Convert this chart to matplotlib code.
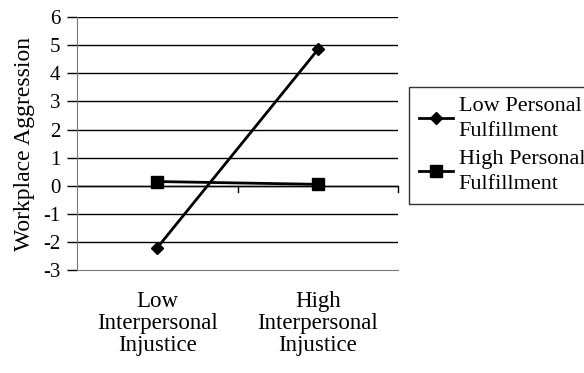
import matplotlib.pyplot as plt

# Data
categories = ['Low\nInterpersonal\nInjustice', 'High\nInterpersonal\nInjustice']
low_pf = [-2.2, 4.85]
high_pf = [0.15, 0.05]
series_names = ['Low Personal\nFulfillment', 'High Personal\nFulfillment']
y_ticks = list(range(-3, 7))

plt.rcParams['font.family'] = ['Liberation Serif', 'DejaVu Serif']
plt.rcParams['axes.unicode_minus'] = False

fig = plt.figure(figsize=(5.84, 3.73), dpi=100)
ax = fig.add_axes([0.132, 0.276, 0.55, 0.678])

x = list(range(len(categories)))
ax.plot(x, low_pf, color='black', lw=2, marker='D', markersize=6, label=series_names[0])
ax.plot(x, high_pf, color='black', lw=2, marker='s', markersize=8, label=series_names[1])

ax.set_xlim(-0.5, 1.5)
ax.set_ylim(-3, 6)
ax.set_yticks(y_ticks)
ax.tick_params(axis='y', labelsize=15, length=7, width=1, color='black', pad=5)

# horizontal gridlines
for yv in y_ticks[1:]:
    ax.axhline(yv, color='black', lw=1, zorder=0)

# category axis crosses at y=0
ax.spines['top'].set_visible(False)
ax.spines['right'].set_visible(False)
ax.spines['bottom'].set_color('#777777')
ax.spines['left'].set_color('#777777')
ax.axhline(0, color='black', lw=1, zorder=0)
ax.set_xticks([])
for xt in [0.5, 1.5]:
    ax.plot([xt, xt], [0, -0.22], color='black', lw=1, clip_on=False)

for xi, lab in zip(x, categories):
    ax.text(xi, -3.75, lab, ha='center', va='top', fontsize=16.5, linespacing=1.05)

ax.set_ylabel('Workplace Aggression', fontsize=17, labelpad=6)

leg = ax.legend(loc='upper left', bbox_to_anchor=(0.700, 0.767), bbox_transform=fig.transFigure,
                fontsize=16, frameon=True, fancybox=False, edgecolor='black',
                handlelength=1.55, handletextpad=0.25, labelspacing=0.4, borderpad=0.45,
                borderaxespad=0)
leg.get_frame().set_linewidth(1)
for t in leg.get_texts():
    t.set_linespacing(1.45)

fig.savefig('out.png', dpi=100)
